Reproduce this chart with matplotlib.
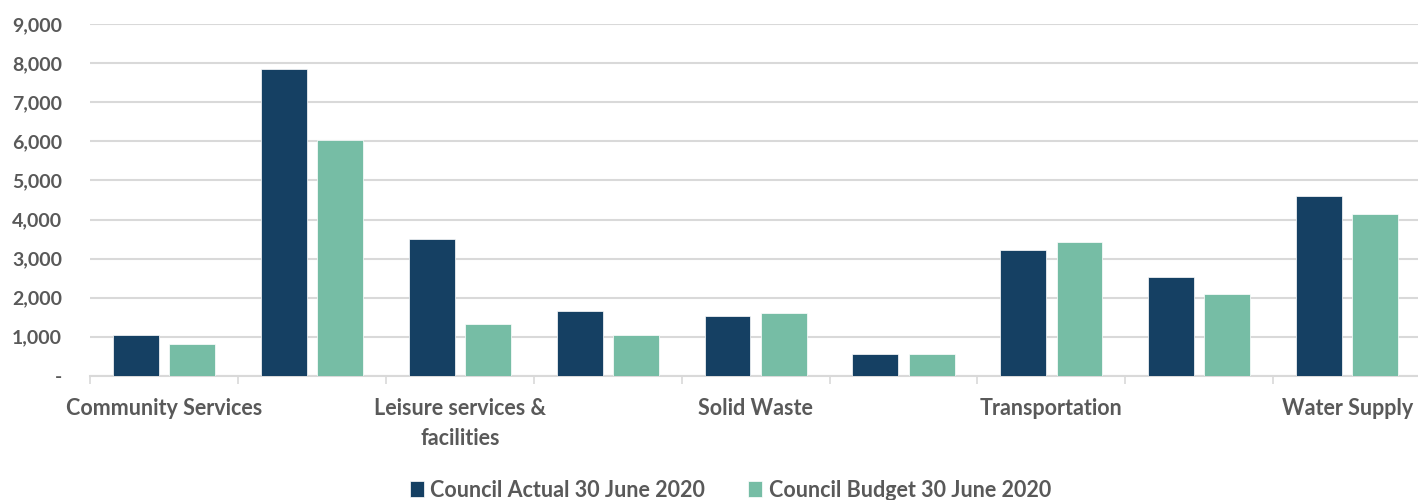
import matplotlib
matplotlib.use("Agg")
import matplotlib.pyplot as plt
import numpy as np
from matplotlib.ticker import FuncFormatter

categories = ["Community Services", "Governance", "Leisure services &\nfacilities",
              "Regulatory Services", "Solid Waste", "Stormwater",
              "Transportation", "Wastewater", "Water Supply"]
actual = [1030, 7860, 3490, 1660, 1520, 560, 3230, 2540, 4600]
budget = [820, 6040, 1330, 1050, 1610, 560, 3420, 2090, 4130]
series_names = ["Council Actual 30 June 2020", "Council Budget 30 June 2020"]
yticks = list(range(0, 9001, 1000))

plt.rcParams['font.family'] = ['Lato', 'DejaVu Sans']
text_color = "#595959"
c_actual = "#154063"
c_budget = "#76BDA5"

fig = plt.figure(figsize=(14.18, 5.0), dpi=100)
ax = fig.add_axes([0.0635, 0.2486, 0.9387, 0.7028])

x = np.arange(len(categories))
w = 0.31
off = 0.19
ax.bar(x - off, actual, w, color=c_actual, label=series_names[0], zorder=3,
       edgecolor="white", linewidth=0.5)
ax.bar(x + off, budget, w, color=c_budget, label=series_names[1], zorder=3,
       edgecolor="white", linewidth=0.5)

ax.set_xlim(-0.5, len(categories) - 0.5)
ax.set_ylim(0, 9000)
ax.set_yticks(yticks)
ax.yaxis.set_major_formatter(FuncFormatter(lambda v, p: "-" if v == 0 else f"{int(v):,}"))
ax.grid(axis="y", color="#d9d9d9", linewidth=1.5, zorder=0)
ax.set_axisbelow(True)
for s in ["top", "right", "left"]:
    ax.spines[s].set_visible(False)
ax.spines["bottom"].set_color("#d9d9d9")
ax.spines["bottom"].set_linewidth(1.5)
ax.tick_params(axis="y", length=0, labelsize=14, labelcolor=text_color, pad=20)
for lbl in ax.get_yticklabels():
    lbl.set_fontweight("bold")

# category boundary ticks
ax.set_xticks(np.arange(len(categories) + 1) - 0.5, minor=True)
ax.tick_params(axis="x", which="minor", length=6, width=1.2, color="#d9d9d9")
ax.set_xticks(x[::2])
ax.set_xticklabels([categories[i] for i in x[::2]], fontsize=15.5, fontweight="bold",
                   color=text_color, linespacing=1.55)
ax.tick_params(axis="x", which="major", length=0, pad=16)

leg = fig.legend(loc="lower center", bbox_to_anchor=(0.515, -0.04), ncol=2, frameon=False,
                 fontsize=15.5, handlelength=0.65, handleheight=0.75, handletextpad=0.3,
                 columnspacing=2.0)
for t in leg.get_texts():
    t.set_color(text_color)
    t.set_fontweight("bold")

fig.savefig("out.png", dpi=100)
